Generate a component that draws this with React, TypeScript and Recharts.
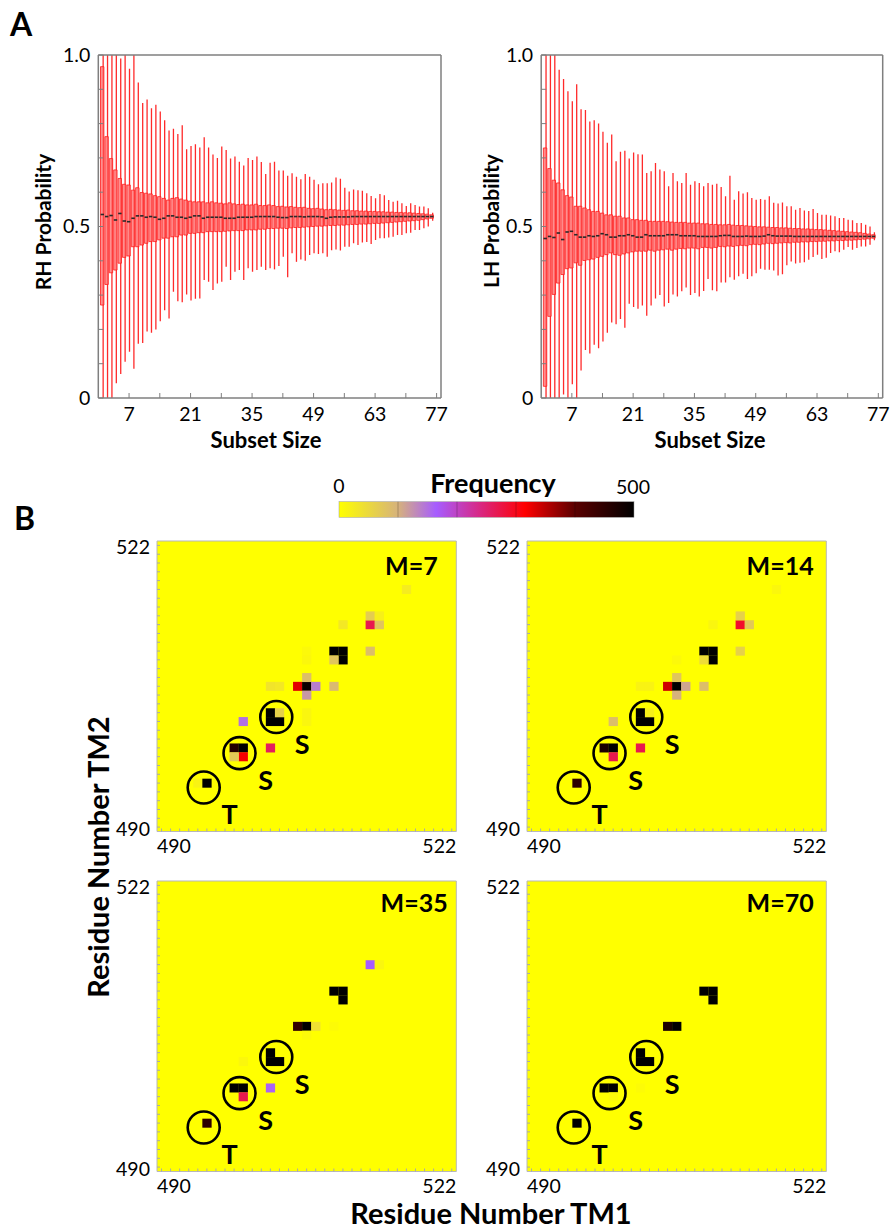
import React from "react";
import {
  ComposedChart,
  ScatterChart,
  Bar,
  Scatter,
  XAxis,
  YAxis,
  CartesianGrid,
} from "recharts";

const FONT = "Lato, 'Open Sans', sans-serif";

// ---------- A: handedness probability vs subset size ----------
const SUBSET_SIZES = Array.from({ length: 76 }, (_, i) => i + 1);
const X_TICKS = [7, 14, 21, 28, 35, 42, 49, 56, 63, 70, 77];
const X_LABELLED = [7, 21, 35, 49, 63, 77];
const Y_TICKS = [0, 0.1, 0.2, 0.3, 0.4, 0.5, 0.6, 0.7, 0.8, 0.9, 1];

const rhMin = [
  0, 0, 0, 0.043, 0.07, 0.106, 0.135, 0.085, 0.158, 0.16,
  0.194, 0.19, 0.2, 0.224, 0.256, 0.232, 0.31, 0.282, 0.279, 0.302,
  0.284, 0.289, 0.29, 0.344, 0.339, 0.315, 0.334, 0.339, 0.383, 0.344,
  0.368, 0.373, 0.344, 0.378, 0.368, 0.373, 0.383, 0.373, 0.378, 0.375,
  0.385, 0.412, 0.352, 0.422, 0.397, 0.404, 0.4, 0.417, 0.422, 0.42,
  0.422, 0.412, 0.431, 0.433, 0.43, 0.441, 0.441, 0.451, 0.446, 0.453,
  0.455, 0.449, 0.461, 0.466, 0.466, 0.468, 0.47, 0.475, 0.475, 0.48,
  0.482, 0.49, 0.49, 0.495, 0.5, 0.517,
];
const rhQ1 = [
  0.271, 0.331, 0.365, 0.373, 0.393, 0.41, 0.414, 0.441, 0.441, 0.446,
  0.451, 0.456, 0.456, 0.461, 0.466, 0.466, 0.47, 0.47, 0.475, 0.475,
  0.48, 0.48, 0.482, 0.482, 0.485, 0.485, 0.485, 0.485, 0.486, 0.487,
  0.488, 0.488, 0.488, 0.49, 0.49, 0.49, 0.492, 0.492, 0.494, 0.494,
  0.495, 0.495, 0.494, 0.496, 0.497, 0.497, 0.498, 0.499, 0.5, 0.501,
  0.501, 0.502, 0.503, 0.503, 0.504, 0.504, 0.505, 0.506, 0.506, 0.507,
  0.507, 0.508, 0.509, 0.509, 0.51, 0.511, 0.512, 0.513, 0.514, 0.515,
  0.516, 0.517, 0.518, 0.52, 0.522, 0.524,
];
const rhMed = [
  0.535, 0.529, 0.532, 0.519, 0.538, 0.516, 0.514, 0.524, 0.531, 0.531,
  0.527, 0.529, 0.527, 0.521, 0.524, 0.531, 0.531, 0.527, 0.527, 0.524,
  0.527, 0.531, 0.531, 0.524, 0.527, 0.527, 0.527, 0.527, 0.524, 0.524,
  0.524, 0.527, 0.527, 0.527, 0.527, 0.529, 0.529, 0.529, 0.529, 0.529,
  0.527, 0.526, 0.526, 0.529, 0.529, 0.529, 0.528, 0.529, 0.529, 0.529,
  0.528, 0.524, 0.527, 0.528, 0.528, 0.528, 0.528, 0.529, 0.529, 0.529,
  0.529, 0.529, 0.529, 0.529, 0.529, 0.529, 0.529, 0.529, 0.529, 0.529,
  0.529, 0.529, 0.529, 0.529, 0.529, 0.529,
];
const rhQ3 = [
  0.966, 0.762, 0.698, 0.665, 0.64, 0.623, 0.621, 0.606, 0.613, 0.599,
  0.597, 0.595, 0.59, 0.587, 0.582, 0.577, 0.582, 0.584, 0.58, 0.577,
  0.574, 0.572, 0.572, 0.572, 0.569, 0.572, 0.569, 0.568, 0.566, 0.569,
  0.566, 0.564, 0.565, 0.563, 0.563, 0.565, 0.561, 0.561, 0.563, 0.561,
  0.558, 0.559, 0.557, 0.558, 0.556, 0.555, 0.556, 0.553, 0.552, 0.553,
  0.551, 0.549, 0.55, 0.549, 0.548, 0.547, 0.548, 0.546, 0.546, 0.545,
  0.545, 0.544, 0.544, 0.543, 0.543, 0.542, 0.542, 0.541, 0.541, 0.54,
  0.54, 0.539, 0.538, 0.537, 0.536, 0.534,
];
const rhMax = [
  1, 1, 1, 1, 0.99, 1, 0.96, 1, 0.92, 0.86,
  0.87, 0.845, 0.855, 0.835, 0.81, 0.78, 0.785, 0.77, 0.795, 0.725,
  0.735, 0.74, 0.73, 0.76, 0.73, 0.71, 0.7, 0.733, 0.723, 0.698,
  0.704, 0.689, 0.678, 0.7, 0.694, 0.704, 0.688, 0.653, 0.686, 0.689,
  0.663, 0.663, 0.648, 0.655, 0.645, 0.638, 0.653, 0.645, 0.636, 0.623,
  0.626, 0.626, 0.628, 0.643, 0.639, 0.613, 0.602, 0.608, 0.606, 0.604,
  0.597, 0.589, 0.582, 0.595, 0.591, 0.577, 0.572, 0.575, 0.568, 0.56,
  0.568, 0.563, 0.558, 0.558, 0.553, 0.54,
];

const lhMin = [
  0, 0, 0, 0, 0.01, 0, 0.04, 0, 0.08, 0.14,
  0.13, 0.155, 0.145, 0.165, 0.19, 0.22, 0.215, 0.23, 0.205, 0.275,
  0.265, 0.26, 0.27, 0.24, 0.27, 0.29, 0.3, 0.267, 0.277, 0.302,
  0.296, 0.311, 0.322, 0.3, 0.306, 0.296, 0.312, 0.347, 0.314, 0.311,
  0.337, 0.337, 0.352, 0.345, 0.355, 0.362, 0.347, 0.355, 0.364, 0.377,
  0.374, 0.374, 0.372, 0.357, 0.361, 0.387, 0.398, 0.392, 0.394, 0.396,
  0.403, 0.411, 0.418, 0.405, 0.409, 0.423, 0.428, 0.425, 0.432, 0.44,
  0.432, 0.437, 0.442, 0.442, 0.447, 0.46,
];
const lhQ1 = [
  0.034, 0.238, 0.302, 0.335, 0.36, 0.377, 0.379, 0.394, 0.387, 0.401,
  0.403, 0.405, 0.41, 0.413, 0.418, 0.423, 0.418, 0.416, 0.42, 0.423,
  0.426, 0.428, 0.428, 0.428, 0.431, 0.428, 0.431, 0.432, 0.434, 0.431,
  0.434, 0.436, 0.435, 0.437, 0.437, 0.435, 0.439, 0.439, 0.437, 0.439,
  0.442, 0.441, 0.443, 0.442, 0.444, 0.445, 0.444, 0.447, 0.448, 0.447,
  0.449, 0.451, 0.45, 0.451, 0.452, 0.453, 0.452, 0.454, 0.454, 0.455,
  0.455, 0.456, 0.456, 0.457, 0.457, 0.458, 0.458, 0.459, 0.459, 0.46,
  0.46, 0.461, 0.462, 0.463, 0.464, 0.466,
];
const lhMed = [
  0.465, 0.471, 0.468, 0.481, 0.462, 0.484, 0.486, 0.476, 0.469, 0.469,
  0.473, 0.471, 0.473, 0.479, 0.476, 0.469, 0.469, 0.473, 0.473, 0.476,
  0.473, 0.469, 0.469, 0.476, 0.473, 0.473, 0.473, 0.473, 0.476, 0.476,
  0.476, 0.473, 0.473, 0.473, 0.473, 0.471, 0.471, 0.471, 0.471, 0.471,
  0.473, 0.474, 0.474, 0.471, 0.471, 0.471, 0.472, 0.471, 0.471, 0.471,
  0.472, 0.476, 0.473, 0.472, 0.472, 0.472, 0.472, 0.471, 0.471, 0.471,
  0.471, 0.471, 0.471, 0.471, 0.471, 0.471, 0.471, 0.471, 0.471, 0.471,
  0.471, 0.471, 0.471, 0.471, 0.471, 0.471,
];
const lhQ3 = [
  0.729, 0.669, 0.635, 0.627, 0.607, 0.59, 0.586, 0.559, 0.559, 0.554,
  0.549, 0.544, 0.544, 0.539, 0.534, 0.534, 0.53, 0.53, 0.525, 0.525,
  0.52, 0.52, 0.518, 0.518, 0.515, 0.515, 0.515, 0.515, 0.514, 0.513,
  0.512, 0.512, 0.512, 0.51, 0.51, 0.51, 0.508, 0.508, 0.506, 0.506,
  0.505, 0.505, 0.506, 0.504, 0.503, 0.503, 0.502, 0.501, 0.5, 0.499,
  0.499, 0.498, 0.497, 0.497, 0.496, 0.496, 0.495, 0.494, 0.494, 0.493,
  0.493, 0.492, 0.491, 0.491, 0.49, 0.489, 0.488, 0.487, 0.486, 0.485,
  0.484, 0.483, 0.482, 0.48, 0.478, 0.476,
];
const lhMax = [
  1, 1, 1, 0.957, 0.93, 0.894, 0.865, 0.915, 0.842, 0.84,
  0.806, 0.81, 0.8, 0.776, 0.744, 0.768, 0.69, 0.718, 0.721, 0.698,
  0.716, 0.711, 0.71, 0.656, 0.661, 0.685, 0.666, 0.661, 0.617, 0.656,
  0.632, 0.627, 0.656, 0.622, 0.632, 0.627, 0.617, 0.627, 0.622, 0.625,
  0.615, 0.588, 0.648, 0.578, 0.603, 0.596, 0.6, 0.583, 0.578, 0.58,
  0.578, 0.588, 0.569, 0.567, 0.57, 0.559, 0.559, 0.549, 0.554, 0.547,
  0.545, 0.551, 0.539, 0.534, 0.534, 0.532, 0.53, 0.525, 0.525, 0.52,
  0.518, 0.51, 0.51, 0.505, 0.5, 0.483,
];

// ---------- B: contact frequency maps, [TM1, TM2, frequency] ----------
const RESIDUES = Array.from({ length: 33 }, (_, i) => 490 + i);

const M7_CELLS = [
  [494, 495, 15], [495, 495, 500],
  [498, 499, 460], [499, 499, 500], [499, 498, 320], [498, 498, 70],
  [502, 499, 260], [499, 502, 150],
  [502, 503, 500], [502, 502, 500], [503, 502, 500], [503, 503, 60],
  [506, 503, 12], [506, 502, 12],
  [502, 506, 35], [503, 506, 30], [505, 506, 330], [506, 506, 490], [507, 506, 140], [509, 506, 90],
  [506, 507, 85], [506, 505, 120],
  [509, 510, 500], [510, 510, 500], [510, 509, 500], [509, 509, 75], [506, 510, 8], [506, 509, 10],
  [510, 513, 30], [513, 510, 85],
  [513, 513, 270], [514, 513, 75], [513, 514, 65], [514, 514, 20],
  [517, 517, 25],
];
const M14_CELLS = [
  [495, 495, 450],
  [498, 499, 470], [499, 499, 500], [499, 498, 270],
  [502, 499, 270], [499, 502, 85],
  [502, 503, 500], [502, 502, 500], [503, 502, 500], [503, 503, 20],
  [502, 506, 15], [503, 506, 15], [505, 506, 340], [506, 506, 500], [507, 506, 110], [509, 506, 85],
  [506, 507, 75], [506, 505, 100], [506, 509, 8],
  [509, 510, 500], [510, 510, 500], [510, 509, 500], [509, 509, 45],
  [513, 510, 60], [510, 513, 12],
  [513, 513, 290], [514, 513, 70], [513, 514, 60],
  [517, 517, 10],
];
const M35_CELLS = [
  [495, 495, 450],
  [498, 499, 500], [499, 499, 500], [499, 498, 270],
  [502, 499, 160], [499, 502, 10],
  [502, 503, 500], [502, 502, 500], [503, 502, 500],
  [505, 506, 445], [506, 506, 500], [507, 506, 40], [509, 506, 5], [506, 505, 8],
  [509, 510, 500], [510, 510, 500], [510, 509, 500],
  [513, 513, 165], [514, 513, 12],
];
const M70_CELLS = [
  [495, 495, 500],
  [498, 499, 500], [499, 499, 500], [499, 498, 8],
  [502, 499, 5],
  [502, 503, 500], [502, 502, 500], [503, 502, 500],
  [505, 506, 470], [506, 506, 500],
  [509, 510, 500], [510, 510, 500], [510, 509, 500],
];

// circled contact sites
const SITES = [
  { x: 494.65, y: 494.5, tag: "T" },
  { x: 498.6, y: 498.4, tag: "S" },
  { x: 502.65, y: 502.5, tag: "S" },
];

// frequency colour scale, 0..500
const FREQ_MAX = 500;
const FREQ_STOPS: [number, string][] = [
  [0, "#ffff00"],
  [0.2, "#d6b27c"],
  [0.33, "#a65cff"],
  [0.47, "#d62a8a"],
  [0.63, "#ff0000"],
  [0.8, "#5a0000"],
  [1, "#000000"],
];

function hexToRgb(h: string) {
  const n = parseInt(h.slice(1), 16);
  return [(n >> 16) & 255, (n >> 8) & 255, n & 255];
}

function freqColor(f: number) {
  const t = Math.max(0, Math.min(1, f / FREQ_MAX));
  for (let i = 1; i < FREQ_STOPS.length; i++) {
    const [t1, c1] = FREQ_STOPS[i];
    if (t <= t1) {
      const [t0, c0] = FREQ_STOPS[i - 1];
      const u = (t - t0) / (t1 - t0);
      const a = hexToRgb(c0);
      const b = hexToRgb(c1);
      const mix = a.map((v, k) => Math.round(v + (b[k] - v) * u));
      return `rgb(${mix[0]},${mix[1]},${mix[2]})`;
    }
  }
  return FREQ_STOPS[FREQ_STOPS.length - 1][1];
}

// ---------- box plots ----------
// axes get a 1px box (a zero-size axis is not drawn), margins account for it
const BOX_H = 460;
const BOX_PLOT_TOP = 55;
const BOX_PLOT_BOTTOM = 62;
const FRAME = "#7f7f7f";

function buildRows(min: number[], q1: number[], med: number[], q3: number[], max: number[]) {
  return SUBSET_SIZES.map((n, i) => ({
    n,
    whisker: [min[i], max[i]],
    box: [q1[i], q3[i]],
    median: med[i],
  }));
}

const MedianDash = (props: any) => {
  const { cx, cy } = props;
  if (cx == null || cy == null) return <g />;
  return <rect x={cx - 2.1} y={cy - 0.8} width={3.4} height={1.6} fill="#2a2a2a" />;
};

const yLabel = (v: number) => (v === 0 ? "0" : v === 0.5 ? "0.5" : v === 1 ? "1.0" : "");

const SubsetTick = (props: any) => {
  const { x, y, payload } = props;
  if (!X_LABELLED.includes(payload.value)) return <g />;
  return (
    <text
      x={x}
      y={y + 5.5}
      textAnchor="middle"
      dominantBaseline="central"
      fontFamily={FONT}
      fontSize={19.5}
      fill="#000"
    >
      {payload.value}
    </text>
  );
};

function ProbabilityBoxPlot(props: {
  rows: ReturnType<typeof buildRows>;
  left: number;
  width: number;
  plotLeft: number;
  plotRight: number;
}) {
  const { rows, left, width, plotLeft, plotRight } = props;
  const axisLine = { stroke: FRAME, strokeWidth: 1.5 };
  const tickLine = { stroke: FRAME, strokeWidth: 1 };
  const tickStyle = { fill: "#000", fontSize: 19.5, fontFamily: FONT };
  return (
    <div style={{ position: "absolute", left, top: 0 }}>
      <ComposedChart
        width={width}
        height={BOX_H}
        data={rows}
        margin={{
          top: BOX_PLOT_TOP - 1,
          right: plotRight - 1,
          bottom: BOX_PLOT_BOTTOM - 1,
          left: plotLeft - 1,
        }}
      >
        <XAxis
          xAxisId="bottom"
          dataKey="n"
          type="number"
          domain={[0, 78]}
          ticks={X_TICKS}
          interval={0}
          height={1}
          tickSize={-5}
          tickMargin={15}
          axisLine={axisLine}
          tickLine={tickLine}
          tick={SubsetTick}
          allowDataOverflow
        />
        <XAxis
          xAxisId="top"
          orientation="top"
          dataKey="n"
          type="number"
          domain={[0, 78]}
          ticks={X_TICKS}
          interval={0}
          tick={false}
          height={1}
          tickSize={-5}
          axisLine={axisLine}
          tickLine={tickLine}
          allowDataOverflow
        />
        <YAxis
          type="number"
          domain={[0, 1]}
          ticks={Y_TICKS}
          interval={0}
          tickFormatter={yLabel}
          width={1}
          tickSize={-5}
          tickMargin={13}
          axisLine={axisLine}
          tickLine={tickLine}
          tick={tickStyle}
          allowDataOverflow
        />
        <YAxis
          yAxisId="right"
          orientation="right"
          type="number"
          domain={[0, 1]}
          ticks={Y_TICKS}
          interval={0}
          tick={false}
          width={1}
          tickSize={-5}
          axisLine={axisLine}
          tickLine={tickLine}
          allowDataOverflow
        />
        {/* whiskers and boxes sit on different x axes so they overlap instead of grouping */}
        <Bar xAxisId="bottom" dataKey="whisker" barSize={1.3} fill="#ff2a2a" isAnimationActive={false} />
        <Bar
          xAxisId="top"
          dataKey="box"
          barSize={3.4}
          fill="#ff7373"
          fillOpacity={0.8}
          stroke="#ff1c1c"
          strokeWidth={0.8}
          isAnimationActive={false}
        />
        <Scatter xAxisId="top" dataKey="median" shape={MedianDash} isAnimationActive={false} />
      </ComposedChart>
    </div>
  );
}

// ---------- contact maps ----------
const HM_W = 380;
const HM_H = 345;
const HM_PLOT_W = 299.3;
const HM_PLOT_H = 290.5;
const HM_LEFT = 57;
const HM_TOP = 21;
const HM_MARGIN = {
  top: HM_TOP - 1,
  left: HM_LEFT - 1,
  right: HM_W - HM_LEFT - HM_PLOT_W - 1,
  bottom: HM_H - HM_TOP - HM_PLOT_H - 1,
};
const CELL_W = HM_PLOT_W / RESIDUES.length;
const CELL_H = HM_PLOT_H / RESIDUES.length;
const HM_DOMAIN: [number, number] = [489.5, 522.5];
const HM_TICK = "#a9a9a9";

const FrequencyCell = (props: any) => {
  const { cx, cy, payload } = props;
  if (cx == null || cy == null) return <g />;
  return (
    <rect
      x={cx - CELL_W / 2}
      y={cy - CELL_H / 2}
      width={CELL_W + 0.2}
      height={CELL_H + 0.2}
      fill={freqColor(payload.f)}
    />
  );
};

const SiteMarker = (props: any) => {
  const { cx, cy, payload } = props;
  if (cx == null || cy == null) return <g />;
  return (
    <g>
      <circle cx={cx} cy={cy} r={16} fill="none" stroke="#000" strokeWidth={2.6} />
      <text
        x={cx + 26}
        y={cy + 26}
        textAnchor="middle"
        dominantBaseline="central"
        fontFamily={FONT}
        fontWeight={700}
        fontSize={27}
        fill="#000"
      >
        {payload.tag}
      </text>
    </g>
  );
};

const ResidueTickX = (props: any) => {
  const { x, y, payload } = props;
  const v = payload.value;
  if (v !== 490 && v !== 522) return <g />;
  const first = v === 490;
  return (
    <text
      x={first ? x - CELL_W / 2 : x + CELL_W / 2}
      y={y + 17}
      textAnchor={first ? "start" : "end"}
      dominantBaseline="central"
      fontFamily={FONT}
      fontSize={19.5}
      fill="#000"
    >
      {v}
    </text>
  );
};

const ResidueTickY = (props: any) => {
  const { x, y, payload } = props;
  const v = payload.value;
  if (v !== 490 && v !== 522) return <g />;
  return (
    <text
      x={x - 10}
      y={y + 1}
      textAnchor="end"
      dominantBaseline="central"
      fontFamily={FONT}
      fontSize={19.5}
      fill="#000"
    >
      {v}
    </text>
  );
};

type Panel = {
  tag: string;
  cells: number[][];
  plotLeft: number;
  plotTop: number;
  tagDx: number;
  tagDy: number;
};

const PANELS: Panel[] = [
  { tag: "M=7", cells: M7_CELLS, plotLeft: 156.7, plotTop: 541, tagDx: 228, tagDy: 34 },
  { tag: "M=14", cells: M14_CELLS, plotLeft: 527.3, plotTop: 541, tagDx: 219.5, tagDy: 34 },
  { tag: "M=35", cells: M35_CELLS, plotLeft: 156.7, plotTop: 880.7, tagDx: 223.5, tagDy: 31 },
  { tag: "M=70", cells: M70_CELLS, plotLeft: 527.3, plotTop: 880.7, tagDx: 219.5, tagDy: 31 },
];

function ContactMap({ panel }: { panel: Panel }) {
  const data = panel.cells.map(([x, y, f]) => ({ x, y, f }));
  const axisLine = { stroke: "#b8b8b8", strokeWidth: 1 };
  const tickLine = { stroke: HM_TICK, strokeWidth: 1 };
  return (
    <div
      style={{
        position: "absolute",
        left: panel.plotLeft - HM_LEFT,
        top: panel.plotTop - HM_TOP,
        width: HM_W,
        height: HM_H,
      }}
    >
      <ScatterChart width={HM_W} height={HM_H} margin={HM_MARGIN}>
        <CartesianGrid horizontal={false} vertical={false} fill="#ffff00" fillOpacity={1} />
        <XAxis
          dataKey="x"
          type="number"
          domain={HM_DOMAIN}
          ticks={RESIDUES}
          interval={0}
          height={1}
          tickSize={-3}
          tickMargin={0}
          axisLine={axisLine}
          tickLine={tickLine}
          tick={ResidueTickX}
          allowDataOverflow
        />
        <XAxis
          xAxisId="top"
          orientation="top"
          type="number"
          domain={HM_DOMAIN}
          ticks={RESIDUES}
          interval={0}
          height={1}
          tickSize={-3}
          axisLine={axisLine}
          tickLine={tickLine}
          tick={false}
          allowDataOverflow
        />
        <YAxis
          dataKey="y"
          type="number"
          domain={HM_DOMAIN}
          ticks={RESIDUES}
          interval={0}
          width={1}
          tickSize={-3}
          tickMargin={0}
          axisLine={axisLine}
          tickLine={tickLine}
          tick={ResidueTickY}
          allowDataOverflow
        />
        <YAxis
          yAxisId="right"
          orientation="right"
          type="number"
          domain={HM_DOMAIN}
          ticks={RESIDUES}
          interval={0}
          width={1}
          tickSize={-3}
          axisLine={axisLine}
          tickLine={tickLine}
          tick={false}
          allowDataOverflow
        />
        <Scatter data={data} shape={FrequencyCell} isAnimationActive={false} />
        <Scatter data={SITES} shape={SiteMarker} isAnimationActive={false} />
      </ScatterChart>
      <svg
        width={HM_W}
        height={HM_H}
        style={{ position: "absolute", left: 0, top: 0, pointerEvents: "none" }}
      >
        <text
          x={HM_LEFT + panel.tagDx}
          y={HM_TOP + panel.tagDy}
          fontFamily={FONT}
          fontWeight={700}
          fontSize={25}
          fill="#000"
        >
          {panel.tag}
        </text>
      </svg>
    </div>
  );
}

// ---------- colour bar, titles ----------
const BAR = { x: 339, y: 501.7, w: 295, h: 15.6 };

function Annotations() {
  const bold = { fontFamily: FONT, fontWeight: 700, fill: "#000" } as const;
  return (
    <svg
      width={892}
      height={1231}
      style={{ position: "absolute", left: 0, top: 0, pointerEvents: "none" }}
    >
      <defs>
        <linearGradient id="freqGradient" x1="0" x2="1" y1="0" y2="0">
          {FREQ_STOPS.map(([t, c]) => (
            <stop key={t} offset={t} stopColor={c} />
          ))}
        </linearGradient>
      </defs>

      <text x={10} y={36} fontSize={32} {...bold}>A</text>
      <text x={14} y={530} fontSize={32} {...bold}>B</text>

      <text transform="translate(42,222) rotate(-90)" textAnchor="middle" dominantBaseline="central" fontSize={21} {...bold}>
        RH Probability
      </text>
      <text transform="translate(490,221) rotate(-90)" textAnchor="middle" dominantBaseline="central" fontSize={21} {...bold}>
        LH Probability
      </text>
      <text x={266} y={439} textAnchor="middle" dominantBaseline="central" fontSize={22} {...bold}>
        Subset Size
      </text>
      <text x={710} y={439} textAnchor="middle" dominantBaseline="central" fontSize={22} {...bold}>
        Subset Size
      </text>

      <rect x={BAR.x} y={BAR.y} width={BAR.w} height={BAR.h} fill="url(#freqGradient)" stroke="#9a9a9a" strokeWidth={0.5} />
      {[0.2, 0.4, 0.6, 0.8].map((t) => (
        <line
          key={t}
          x1={BAR.x + BAR.w * t}
          x2={BAR.x + BAR.w * t}
          y1={BAR.y}
          y2={BAR.y + BAR.h}
          stroke="rgba(0,0,0,0.22)"
          strokeWidth={1}
        />
      ))}
      <text x={493} y={482} textAnchor="middle" dominantBaseline="central" fontSize={27} {...bold}>
        Frequency
      </text>
      <text x={339} y={485} textAnchor="middle" dominantBaseline="central" fontSize={19.5} fontFamily={FONT} fill="#000">
        0
      </text>
      <text x={633} y={486} textAnchor="middle" dominantBaseline="central" fontSize={19.5} fontFamily={FONT} fill="#000">
        500
      </text>

      <text transform="translate(97,857) rotate(-90)" textAnchor="middle" dominantBaseline="central" fontSize={29} {...bold}>
        Residue Number TM2
      </text>
      <text x={491} y={1212} textAnchor="middle" dominantBaseline="central" fontSize={29} {...bold}>
        Residue Number TM1
      </text>
    </svg>
  );
}

const RH_ROWS = buildRows(rhMin, rhQ1, rhMed, rhQ3, rhMax);
const LH_ROWS = buildRows(lhMin, lhQ1, lhMed, lhQ3, lhMax);

export default function App() {
  return (
    <div
      style={{
        position: "absolute",
        left: 0,
        top: 0,
        width: 892,
        height: 1231,
        background: "#fff",
        fontFamily: FONT,
        overflow: "hidden",
      }}
    >
      <ProbabilityBoxPlot rows={RH_ROWS} left={0} width={450} plotLeft={98.3} plotRight={9} />
      <ProbabilityBoxPlot rows={LH_ROWS} left={446} width={446} plotLeft={95.2} plotRight={9.3} />
      {PANELS.map((p) => (
        <ContactMap key={p.tag} panel={p} />
      ))}
      <Annotations />
    </div>
  );
}
